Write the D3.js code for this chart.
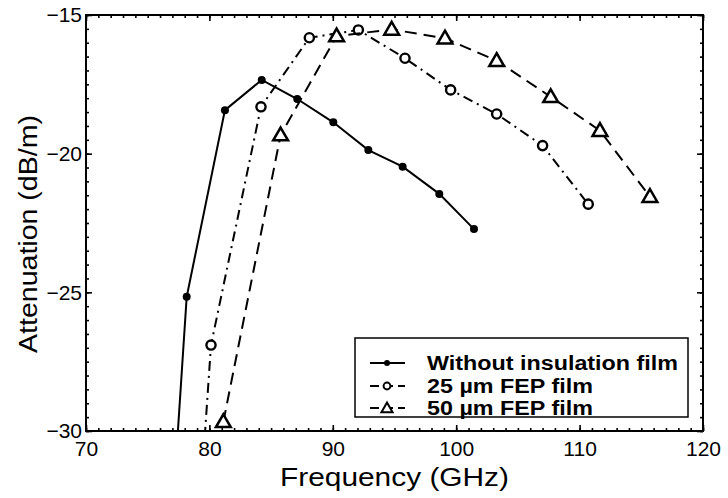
<!DOCTYPE html>
<html>
<head>
<meta charset="utf-8">
<script src="https://cdn.jsdelivr.net/npm/d3@7"></script>
<style>
  html, body { margin: 0; padding: 0; background: #fff; }
  svg { display: block; font-family: "Liberation Sans", Arial, sans-serif; }
</style>
</head>
<body>
<svg id="chart" width="728" height="498"></svg>
<script>
// ---- data ----
const seriesNames = ["Without insulation film", "25 \u00b5m FEP film", "50 \u00b5m FEP film"];

const freqNone = [77.3, 78.16, 81.26, 84.24, 87.12, 90.04, 92.88, 95.66, 98.63, 101.44];
const attNone  = [-31.0, -25.16, -18.43, -17.34, -18.03, -18.87, -19.87, -20.47, -21.45, -22.72];

const freq25 = [79.5, 80.13, 84.18, 88.1, 92.07, 95.85, 99.55, 103.28, 107.0, 110.7];
const att25  = [-31.0, -26.9, -18.31, -15.82, -15.54, -16.56, -17.70, -18.57, -19.71, -21.82];

const freq50 = [81.13, 85.77, 90.31, 94.77, 99.09, 103.28, 107.66, 111.65, 115.7];
const att50  = [-29.67, -19.33, -15.76, -15.52, -15.84, -16.65, -17.95, -19.17, -21.55];

const xTicks = [70, 80, 90, 100, 110, 120];
const yTicks = [-30, -25, -20, -15];
const xLabel = "Frequency (GHz)";
const yLabel = "Attenuation (dB/m)";

// ---- layout ----
const svg = d3.select("#chart");
const L = 86, R = 703, T = 15, B = 431;

const x = d3.scaleLinear().domain([70, 120]).range([L, R]);
const y = d3.scaleLinear().domain([-30, -15]).range([B, T]);

const font = "'Liberation Sans', Arial, sans-serif";

svg.append("defs").append("clipPath").attr("id", "plotclip")
  .append("rect").attr("x", L).attr("y", T).attr("width", R - L).attr("height", B - T);

// ---- axes ----
function styleAxis(g) {
  g.select(".domain").remove();
  g.selectAll(".tick line").attr("stroke", "#000").attr("stroke-width", 1.6);
  g.selectAll(".tick text").attr("fill", "#000").style("font-family", font).style("font-size", "21px");
}
const xMinor = d3.range(70, 120.01, 1);
const yMinor = d3.range(-30, -14.99, 0.5);

svg.append("g").attr("transform", `translate(0,${B})`)
  .call(d3.axisBottom(x).tickValues(xTicks).tickSize(-6).tickPadding(10).tickFormat(d3.format("d")))
  .call(styleAxis);
svg.append("g").attr("transform", `translate(0,${B})`)
  .call(d3.axisBottom(x).tickValues(xMinor).tickSize(-3).tickFormat(""))
  .call(styleAxis);
svg.append("g").attr("transform", `translate(0,${T})`)
  .call(d3.axisTop(x).tickValues(xTicks).tickSize(-6).tickFormat(""))
  .call(styleAxis);
svg.append("g").attr("transform", `translate(0,${T})`)
  .call(d3.axisTop(x).tickValues(xMinor).tickSize(-3).tickFormat(""))
  .call(styleAxis);

svg.append("g").attr("transform", `translate(${L},0)`)
  .call(d3.axisLeft(y).tickValues(yTicks).tickSize(-6).tickPadding(4).tickFormat(d3.format("d")))
  .call(styleAxis);
svg.append("g").attr("transform", `translate(${L},0)`)
  .call(d3.axisLeft(y).tickValues(yMinor).tickSize(-3).tickFormat(""))
  .call(styleAxis);
svg.append("g").attr("transform", `translate(${R},0)`)
  .call(d3.axisRight(y).tickValues(yTicks).tickSize(-6).tickFormat(""))
  .call(styleAxis);
svg.append("g").attr("transform", `translate(${R},0)`)
  .call(d3.axisRight(y).tickValues(yMinor).tickSize(-3).tickFormat(""))
  .call(styleAxis);

// frame
svg.append("rect").attr("x", L).attr("y", T).attr("width", R - L).attr("height", B - T)
  .attr("fill", "none").attr("stroke", "#000").attr("stroke-width", 2);

// axis titles
svg.append("text").attr("x", (L + R) / 2).attr("y", 486)
  .attr("text-anchor", "middle").style("font-family", font).style("font-size", "25px")
  .attr("textLength", 229).attr("lengthAdjust", "spacingAndGlyphs")
  .text(xLabel);
svg.append("text").attr("transform", "translate(37,234) rotate(-90)")
  .attr("text-anchor", "middle").style("font-family", font).style("font-size", "25px")
  .attr("textLength", 238).attr("lengthAdjust", "spacingAndGlyphs")
  .text(yLabel);

// ---- series ----
const series = [
  { xs: freqNone, ys: attNone, dash: null, marker: "dot" },
  { xs: freq25, ys: att25, dash: "10,5,2,5", marker: "circle" },
  { xs: freq50, ys: att50, dash: "12,7", marker: "tri" }
];

const plot = svg.append("g").attr("clip-path", "url(#plotclip)");
const line = d3.line().x(d => x(d[0])).y(d => y(d[1]));

function drawMarker(g, kind, cx, cy, scale) {
  if (kind === "dot") {
    g.append("circle").attr("cx", cx).attr("cy", cy).attr("r", 4 * scale).attr("fill", "#000");
  } else if (kind === "circle") {
    g.append("circle").attr("cx", cx).attr("cy", cy).attr("r", 4.6 * scale)
      .attr("fill", "#fff").attr("stroke", "#000").attr("stroke-width", 2.4 * Math.max(scale, 0.8));
  } else {
    g.append("path").attr("d", d3.symbol().type(d3.symbolTriangle).size(95 * scale * scale)())
      .attr("transform", `translate(${cx},${cy + 1})`)
      .attr("fill", "#fff").attr("stroke", "#000").attr("stroke-width", 2.5 * Math.max(scale, 0.8))
      .attr("stroke-linejoin", "miter");
  }
}

series.forEach(s => {
  const pts = s.xs.map((v, i) => [v, s.ys[i]]);
  plot.append("path").datum(pts).attr("d", line)
    .attr("fill", "none").attr("stroke", "#000").attr("stroke-width", 2)
    .attr("stroke-dasharray", s.dash);
  pts.forEach(p => drawMarker(plot, s.marker, x(p[0]), y(p[1]), 1));
});

// ---- legend ----
const lg = svg.append("g");
lg.append("rect").attr("x", 355).attr("y", 338).attr("width", 333).attr("height", 79)
  .attr("fill", "#fff").attr("stroke", "#000").attr("stroke-width", 1.5);
const rowY = [363, 386, 408];
const texts = [];
series.forEach((s, i) => {
  const yy = rowY[i];
  lg.append("line").attr("x1", 370).attr("x2", 405).attr("y1", yy).attr("y2", yy)
    .attr("stroke", "#000").attr("stroke-width", 2)
    .attr("stroke-dasharray", i === 0 ? null : "9,5");
  drawMarker(lg, s.marker, 387, yy, 0.75);
  const t = lg.append("text").attr("x", 427).attr("y", yy).attr("dy", "0.36em")
    .style("font-family", font).style("font-size", "19.5px").style("font-weight", "bold")
    .text(seriesNames[i]);
  texts.push(t);
});
// widen glyphs so the first entry spans the same width as in the reference
const stretch = 251 / texts[0].node().getComputedTextLength();
texts.forEach(t => {
  const w = t.node().getComputedTextLength();
  t.attr("textLength", w * stretch).attr("lengthAdjust", "spacingAndGlyphs");
});
</script>
</body>
</html>
